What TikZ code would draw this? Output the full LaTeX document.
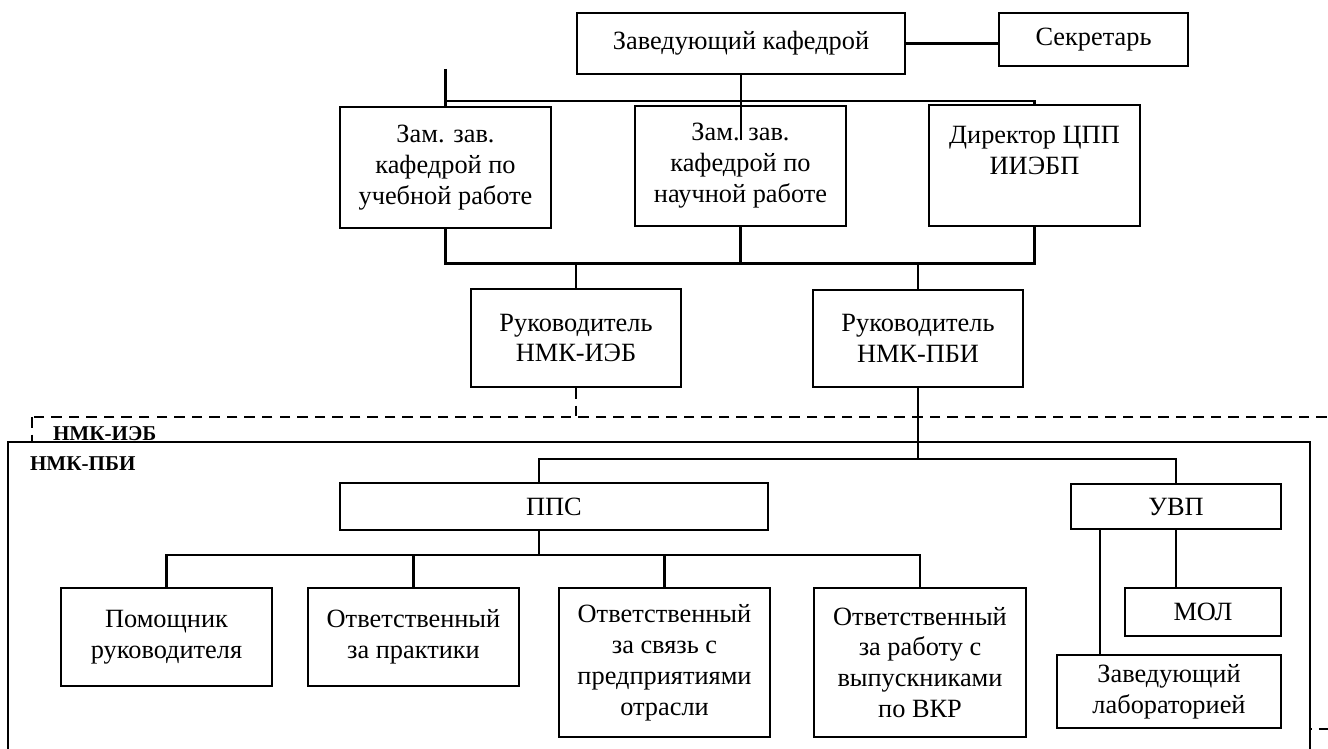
\documentclass[tikz,border=0pt]{standalone}
\usepackage{fontspec}
\setmainfont{Liberation Serif}
\usepackage{tikz}

\begin{document}
\begin{tikzpicture}[x=0.02cm,y=-0.02cm,line width=1.2pt,
        unit/.style={draw,fill=white,align=center,inner sep=1pt,font=\fontsize{15}{17.6}\selectfont},
        tag/.style={anchor=base west,inner sep=0pt,font=\fontsize{12}{14}\selectfont\bfseries}]
            \useasboundingbox (0,0) rectangle (1328,749);
            \clip (0,0) rectangle (1328,749);

            \draw[dash pattern=on 6pt off 4pt] (32,417) rectangle (1360,729);
            \draw[fill=white] (8,442) rectangle (1310,790);
            \node[tag] (iebtag) at (52,440) {НМК-ИЭБ};
            \node[tag] (pbitag) at (29,471) {НМК-ПБИ};

            \coordinate (topbus) at (0,101);
            \coordinate (midbus) at (0,263.5);
            \coordinate (iebtop) at (0,417);
            \coordinate (ppsbus) at (0,459);
            \coordinate (childbus) at (0,555);

            \node[unit,minimum width=6.56cm,minimum height=1.22cm] (zav) at (741,43.5) {Заведующий кафедрой};
            \node[unit,minimum width=3.78cm,minimum height=1.06cm] (sekr) at (1093.5,39.5) {Секретарь};

            \node[unit,minimum width=4.22cm,minimum height=2.42cm] (zamU) at (445.5,167.5) {Зам. зав.\\кафедрой по\\учебной работе};
            \node[unit,minimum width=4.22cm,minimum height=2.40cm] (zamN) at (740.5,166) {Зам. зав.\\кафедрой по\\научной работе};
            \node[unit,minimum width=4.22cm,minimum height=2.42cm] (dir) at (1034.5,165.5) {Директор ЦПП\\ИИЭБП\\~};

            \node[unit,minimum width=4.2cm,minimum height=1.96cm] (rukI) at (576,338) {Руководитель\\НМК-ИЭБ};
            \node[unit,minimum width=4.2cm,minimum height=1.94cm] (rukP) at (918,338.5) {Руководитель\\НМК-ПБИ};

            \node[unit,minimum width=8.56cm,minimum height=0.93cm] (pps) at (554,506.5) {ППС};
            \node[unit,minimum width=4.2cm,minimum height=0.9cm] (uvp) at (1176,506.5) {УВП};

            \node[unit,minimum width=4.22cm,minimum height=1.96cm] (pom) at (166.5,637) {Помощник\\руководителя};
            \node[unit,minimum width=4.22cm,minimum height=1.96cm] (prak) at (413.5,637) {Ответственный\\за практики};
            \node[unit,minimum width=4.22cm,minimum height=2.98cm] (svyaz) at (664.5,662.5) {Ответственный\\за связь с\\предприятиями\\отрасли};
            \node[unit,minimum width=4.24cm,minimum height=2.98cm] (vkr) at (920,662.5) {Ответственный\\за работу с\\выпускниками\\по ВКР};
            \node[unit,minimum width=3.12cm,minimum height=0.96cm] (mol) at (1203,612) {МОЛ};
            \node[unit,minimum width=4.48cm,minimum height=1.46cm] (lab) at (1169,691.5) {Заведующий\\лабораторией};

            \draw (zav.east) -- (zav.east -| sekr.west);
            \draw (zamU.north |- 0,69) -- (zamU.north);
            \draw (zamU.north |- topbus) -- (dir.north |- topbus) -- (dir.north);
            \draw (zav.south) -- (zav.south |- 0,140);

            \draw (zamU.south) -- (zamU.south |- midbus) -- (dir.south |- midbus) -- (dir.south);
            \draw (zamN.south) -- (zamN.south |- midbus);
            \draw (rukI.north) -- (rukI.north |- midbus);
            \draw (rukP.north) -- (rukP.north |- midbus);

            \draw[dash pattern=on 6pt off 4pt] (rukI.south) -- (rukI.south |- iebtop);
            \draw (rukP.south) -- (rukP.south |- ppsbus);
            \draw ([xshift=-0.3cm]pps.north) -- ([xshift=-0.3cm]pps.north |- ppsbus) -- (uvp.north |- ppsbus) -- (uvp.north);

            \draw ([xshift=-0.3cm]pps.south) -- ([xshift=-0.3cm]pps.south |- childbus);
            \draw (pom.north) -- (pom.north |- childbus) -- (vkr.north |- childbus) -- (vkr.north);
            \draw (prak.north) -- (prak.north |- childbus);
            \draw (svyaz.north) -- (svyaz.north |- childbus);

            \draw (uvp.south) -- (uvp.south |- mol.north);
            \draw ([xshift=-1.52cm]uvp.south) -- ([xshift=-1.52cm]uvp.south |- lab.north);
        \end{tikzpicture}
\end{document}
